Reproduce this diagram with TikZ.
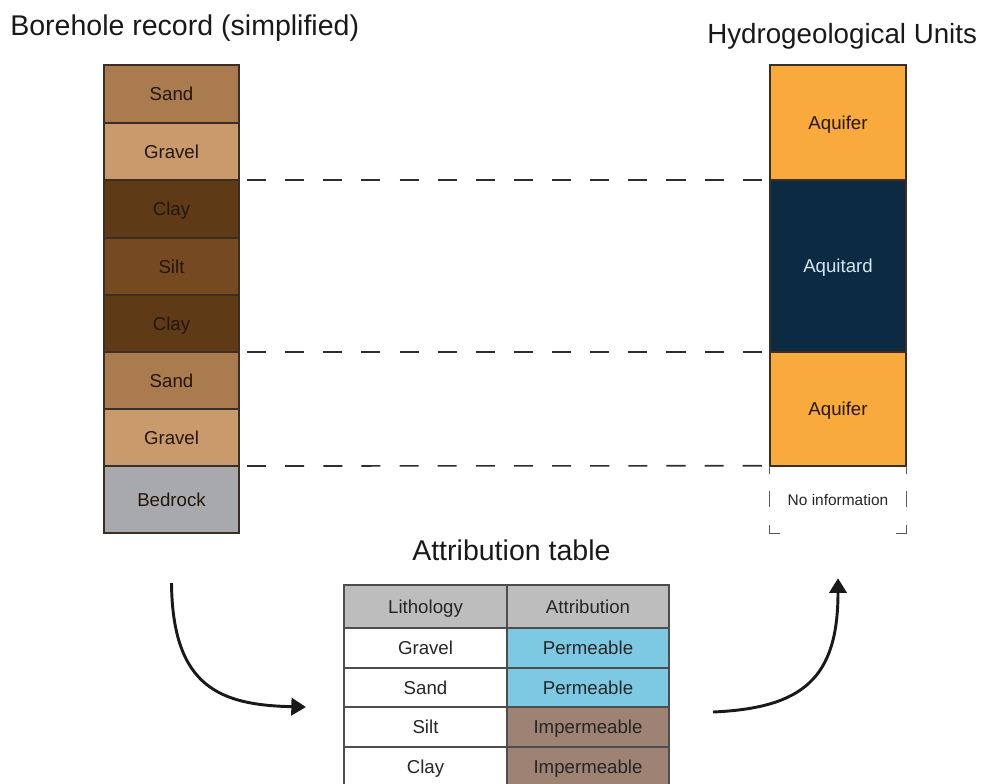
\documentclass[tikz,border=0pt]{standalone}
\usepackage{fontspec}
\setmainfont{Liberation Sans}
\usetikzlibrary{arrows.meta,calc}

% lithology and unit colours
\definecolor{sandc}{HTML}{A97B4F}
\definecolor{gravelc}{HTML}{C99A6B}
\definecolor{clayc}{HTML}{5E3A16}
\definecolor{siltc}{HTML}{754A20}
\definecolor{bedrockc}{HTML}{A7A9AC}
\definecolor{aquiferc}{HTML}{F8AA3C}
\definecolor{aquitardc}{HTML}{0C2B42}
\definecolor{aquitardtext}{HTML}{D5E4EE}
\definecolor{permc}{HTML}{7DC8E2}
\definecolor{impermc}{HTML}{9E8273}
\definecolor{headc}{HTML}{BDBDBD}
\definecolor{edgec}{HTML}{3B2E24}
\definecolor{laytext}{HTML}{24160A}
\definecolor{linec}{HTML}{2E2E2E}

\begin{document}
\begin{tikzpicture}[x=0.75pt,y=-0.75pt,
  ht/.style={minimum height=#1*0.75pt},
  celltext/.style={font=\fontsize{14}{16}\selectfont, text height=10pt, text depth=0pt},
  layer/.style={draw=edgec, line width=1.1pt, inner sep=0pt, outer sep=0pt,
    minimum width=101.25pt, celltext, text=laytext},
  unit/.style={draw=edgec, line width=1.1pt, inner sep=0pt, outer sep=0pt,
    minimum width=102pt, celltext, text=laytext},
  cell/.style={draw=linec!85, line width=1.1pt, inner sep=0pt, outer sep=0pt,
    celltext, text=black!85},
  lcol/.style={cell, minimum width=122.25pt, fill=white},
  rcol/.style={cell, minimum width=121.5pt},
  title/.style={font=\fontsize{21.4}{24}\selectfont, text=black!90, inner sep=0pt},
  levelline/.style={draw=linec, line width=1.2pt, dash pattern=on 14.3pt off 14.3pt},
  flow/.style={draw=black!90, line width=2.2pt, -{Triangle[length=11pt,width=13pt]}},
  tick/.style={draw=black!65, line width=1.1pt}
]
\useasboundingbox (0,0) rectangle (987,783);
\clip (0,0) rectangle (987,783);

% titles
\node[title, anchor=base west] (tbore) at (10,35) {Borehole record (simplified)};
\node[title, anchor=base west, font=\fontsize{20.8}{24}\selectfont] (thydro) at (707,43) {Hydrogeological Units};
\node[title, anchor=base west] (tattr) at (412,560) {Attribution table};

% borehole column
\node[layer, ht=58, fill=sandc]    (l1) at (171.5,94)    {Sand};
\node[layer, ht=57, fill=gravelc]  (l2) at (171.5,151.5) {Gravel};
\node[layer, ht=58, fill=clayc]    (l3) at (171.5,209)   {Clay};
\node[layer, ht=57, fill=siltc]    (l4) at (171.5,266.5) {Silt};
\node[layer, ht=57, fill=clayc]    (l5) at (171.5,323.5) {Clay};
\node[layer, ht=57, fill=sandc]    (l6) at (171.5,380.5) {Sand};
\node[layer, ht=57, fill=gravelc]  (l7) at (171.5,437.5) {Gravel};
\node[layer, ht=67, fill=bedrockc] (l8) at (171.5,499.5) {Bedrock};

% hydrogeological units
\node[unit, ht=115, fill=aquiferc] (u1) at (838,122.5) {Aquifer};
\node[unit, ht=172, fill=aquitardc, text=aquitardtext] (u2) at (838,266) {Aquitard};
\node[unit, ht=114, fill=aquiferc] (u3) at (838,409) {Aquifer};
\node[inner sep=0pt, minimum width=102pt, minimum height=50.25pt,
      font=\fontsize{11.6}{13}\selectfont, text height=8.3pt, text depth=0pt,
      text=black!85] (u4) at (838,499.5) {No information};

% open frame round the unit without information
\path[tick] (u4.north west) -- ++(0,8);
\path[tick] ($(u4.north west)+(0,25)$) -- ++(0,16);
\path[tick] ($(u4.south west)+(0,-8)$) -- (u4.south west) -- ++(10,0);
\path[tick] (u4.north east) -- ++(0,8);
\path[tick] ($(u4.north east)+(0,25)$) -- ++(0,16);
\path[tick] ($(u4.south east)+(0,-8)$) -- (u4.south east) -- ++(-10,0);

% boundaries carried across from the log to the units
\path[levelline] ($(l2.south east)+(8,0)$) -- ($(u2.north west)+(-6,0)$);
\path[levelline] ($(l5.south east)+(8,0)$) -- ($(u3.north west)+(-6,0)$);
\path[levelline] ($(l7.south east)+(8,0)$) -- ($(u4.north west)+(-6,0)$);

% attribution table
\node[lcol, ht=43, fill=headc] (h1) at (425.5,606.5) {Lithology};
\node[rcol, ht=43, fill=headc] (h2) at (588,606.5) {Attribution};
\node[lcol, ht=40] (a1) at (425.5,648) {Gravel};
\node[rcol, ht=40, fill=permc] (b1) at (588,648) {Permeable};
\node[lcol, ht=39] (a2) at (425.5,687.5) {Sand};
\node[rcol, ht=39, fill=permc] (b2) at (588,687.5) {Permeable};
\node[lcol, ht=40] (a3) at (425.5,727) {Silt};
\node[rcol, ht=40, fill=impermc] (b3) at (588,727) {Impermeable};
\node[lcol, ht=40] (a4) at (425.5,767) {Clay};
\node[rcol, ht=40, fill=impermc] (b4) at (588,767) {Impermeable};

% flow arrows: log -> table -> units
\coordinate (s1) at ($(l8.south)+(0,50)$);
\coordinate (e1) at ($(a3.west)+(-38,-20)$);
\path[flow] (s1) .. controls ($(s1)+(1,105)$) and ($(e1)+(-85,-2)$) .. (e1);
\coordinate (s2) at ($(b3.east)+(44,-15)$);
\coordinate (e2) at ($(u4.south)+(0,45)$);
\path[flow] (s2) .. controls ($(s2)+(90,-4)$) and ($(e2)+(0,100)$) .. (e2);
\end{tikzpicture}
\end{document}
